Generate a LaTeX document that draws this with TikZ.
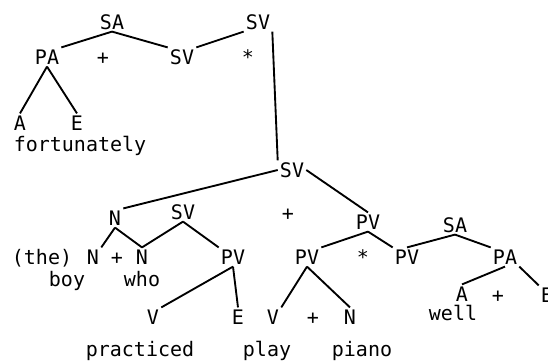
\documentclass[tikz,border=0pt]{standalone}
\usepackage{fontspec}
\setmonofont{DejaVu Sans Mono}
\begin{document}
\begin{tikzpicture}[x=0.75pt, y=-0.75pt, line width=1.4pt,
  main/.style = {font=\ttfamily\fontsize{15}{15}\selectfont, inner sep=1pt, text height=11pt, text depth=0pt},
  word/.style = {font=\ttfamily\fontsize{15}{15}\selectfont, inner sep=1pt, anchor=base}]
\useasboundingbox (0,0) rectangle (548,362);
% upper tree
\node[main] (1) at (112,22) {SA};
\node[main] (2) at (47,57) {PA};
\node[main] (3) at (103,57) {+};
\node[main] (4) at (182,57) {SV};
\node[main] (5) at (248,57) {*};
\node[main] (6) at (258,22) {SV};
\node[main] (7) at (20,123) {A};
\node[main] (8) at (77,123) {E};
\node[word] (9) at (80,151) {fortunately};

\draw (1.south) -- (2.north east);
\draw (1.south) -- (4.north west);
\draw (4.north east) -- (6.south west);
\draw (2.south) -- (7.north);
\draw (2.south) -- (8.north);

% lower tree
\node[main] (10) at (292,170) {SV};
\node[main] (11) at (288,213) {+};
\node[main] (12) at (115,218) {N};
\node[main] (13) at (183,212) {SV};
\node[main] (14) at (42,257) {(the)};
\node[main] (15) at (93,257) {N};
\node[main] (16) at (117,257) {+};
\node[main] (17) at (142,257) {N};
\node[main] (18) at (233,257) {PV};
\node[word] (19) at (67,286) {boy};
\node[word] (20) at (142,286) {who};
\node[main] (21) at (153,317) {V};
\node[main] (22) at (238,317) {E};
\node[word] (23) at (140,356) {practiced};
\node[word] (24) at (267,356) {play};
\node[word] (25) at (362,356) {piano};
\node[main] (26) at (368,222) {PV};
\node[main] (27) at (455,225) {SA};
\node[main] (28) at (307,257) {PV};
\node[main] (29) at (363,257) {*};
\node[main] (30) at (407,257) {PV};
\node[main] (31) at (505,257) {PA};
\node[main] (32) at (273,317) {V};
\node[main] (33) at (313,317) {+};
\node[main] (34) at (350,317) {N};
\node[main] (35) at (462,294) {A};
\node[main] (36) at (498,295) {+};
\node[main] (37) at (547,295) {E};
\node[word] (38) at (453,320) {well};

\draw (6.south east) -- (10.north west);
\draw (10.west) -- (12.north east);
\draw (10.east) -- (26.north);
\draw (12.south) -- (15.north east);
\draw (12.south) -- (17.north);
\draw (13.south) -- (17.north);
\draw (13.south) -- (18.north west);
\draw (18.south) -- (21.north east);
\draw (18.south) -- (22.north);
\draw (26.south) -- (28.north east);
\draw (26.south) -- (30.north west);
\draw (27.south) -- (30.north);
\draw (27.south) -- (31.north west);
\draw (28.south) -- (32.north east);
\draw (28.south) -- (34.north);
\draw (31.south) -- (35.north);
\draw (31.south east) -- (37.north west);
\end{tikzpicture}
\end{document}
